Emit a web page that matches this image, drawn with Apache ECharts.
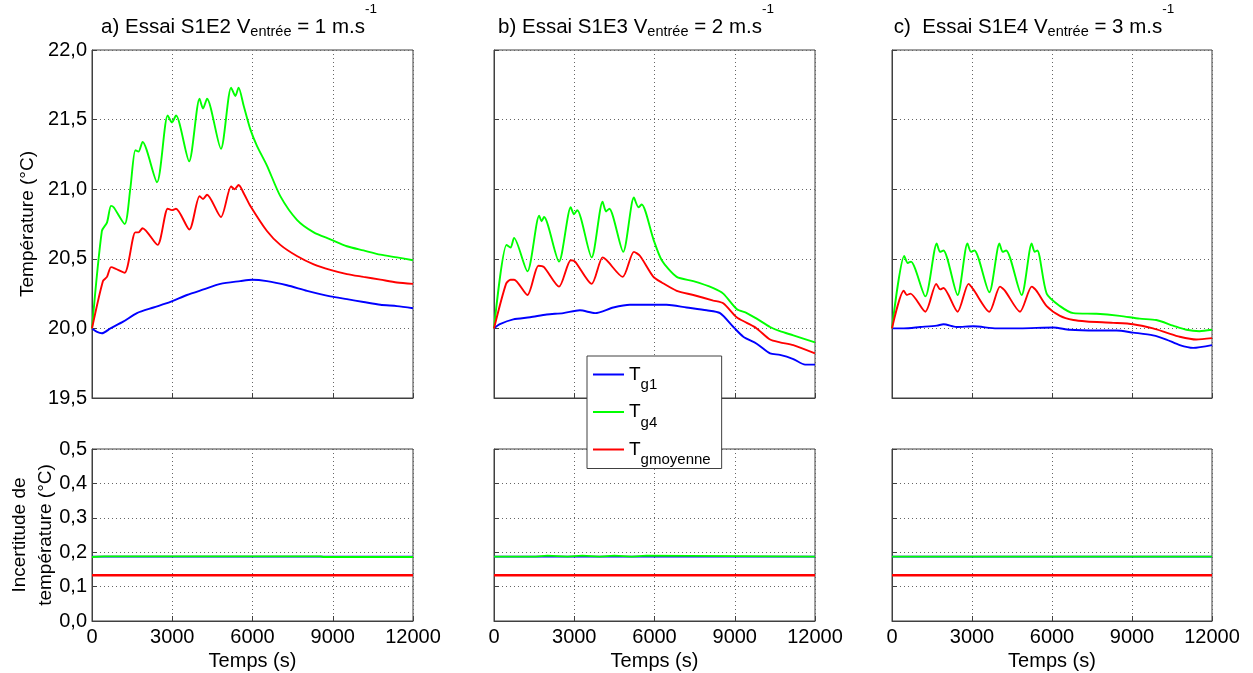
<!DOCTYPE html>
<html><head><meta charset="utf-8">
<script src="https://cdn.jsdelivr.net/npm/echarts@6/dist/echarts.min.js"></script>
<style>html,body{margin:0;padding:0;background:#fff}#c{width:1253px;height:673px}</style>
</head><body><div id="c"></div>
<script>
// ---------- Data ----------
const xTicks = [0, 3000, 6000, 9000, 12000];
const titles = [
  ['a) Essai S1E2 V', 'entrée', ' = 1 m.s', '-1'],
  ['b) Essai S1E3 V', 'entrée', ' = 2 m.s', '-1'],
  ['c)  Essai S1E4 V', 'entrée', ' = 3 m.s', '-1']
];
const seriesNames = ['Tg1', 'Tg4', 'Tgmoyenne'];

// Panel a (S1E2)
const a_g1_t = [0,190,370,690,1180,1680,2300,2930,3550,4170,4800,5540,5980,6540,7290,8040,8910,9530,10150,10780,11400,12000];
const a_g1_v = [20.00,19.975,19.965,20.00,20.05,20.11,20.15,20.19,20.24,20.28,20.32,20.34,20.35,20.34,20.31,20.27,20.23,20.21,20.19,20.17,20.16,20.145];
const a_g4_t = [0,370,560,710,810,1220,1430,1620,1740,1890,2430,2830,2990,3140,3630,4020,4150,4300,4820,5200,5360,5480,5670,5920,6170,6540,7040,7660,8290,8910,9530,10150,10780,11400,12000];
const a_g4_v = [20.00,20.70,20.76,20.88,20.87,20.75,21.00,21.28,21.27,21.34,21.05,21.53,21.48,21.53,21.20,21.65,21.58,21.65,21.29,21.73,21.67,21.73,21.60,21.43,21.31,21.17,20.95,20.78,20.69,20.64,20.59,20.56,20.53,20.51,20.49];
const a_gm_t = [0,410,560,710,870,1220,1620,1740,1890,2450,2830,2990,3140,3640,4020,4150,4300,4820,5200,5330,5480,5700,5920,6540,7040,7660,8290,8910,9530,10150,10780,11400,12000];
const a_gm_v = [20.00,20.34,20.37,20.44,20.43,20.40,20.69,20.69,20.72,20.60,20.86,20.85,20.86,20.71,20.95,20.93,20.96,20.80,21.02,21.00,21.03,20.96,20.88,20.70,20.60,20.52,20.46,20.42,20.39,20.37,20.35,20.33,20.32];

// Panel b (S1E3)
const b_g1_t = [0,220,720,1350,1970,2590,3210,3780,4460,5080,5830,6450,7200,7950,8450,8950,9320,9820,10320,10690,11190,11630,12000];
const b_g1_v = [20.00,20.03,20.065,20.08,20.10,20.11,20.13,20.11,20.15,20.17,20.17,20.17,20.15,20.13,20.11,20.01,19.94,19.89,19.82,19.81,19.78,19.74,19.74];
const b_g4_t = [0,470,620,750,1250,1690,1780,1870,2430,2870,2990,3110,3650,4060,4190,4310,4830,5230,5400,5520,5960,6270,6830,7450,8200,8570,9070,9450,9820,10320,10690,11190,12000];
const b_g4_v = [20.00,20.60,20.58,20.65,20.41,20.81,20.77,20.80,20.48,20.87,20.82,20.85,20.51,20.91,20.84,20.86,20.55,20.94,20.87,20.89,20.64,20.49,20.37,20.34,20.29,20.25,20.14,20.11,20.07,20.01,19.98,19.95,19.90];
const b_gm_t = [0,450,620,750,1250,1660,1870,2430,2870,3030,3650,4060,4210,4810,5230,5460,5960,6270,6830,7450,8200,8570,9070,9450,9820,10320,10690,11190,12000];
const b_gm_v = [20.00,20.32,20.35,20.35,20.24,20.45,20.44,20.30,20.49,20.48,20.32,20.51,20.49,20.37,20.55,20.52,20.37,20.33,20.27,20.24,20.20,20.18,20.08,20.04,20.00,19.92,19.90,19.88,19.82];

// Panel c (S1E4)
const c_g1_t = [0,440,1060,1680,1930,2430,3050,3930,4800,6050,6670,7670,8420,9040,9790,10290,10790,11290,12000];
const c_g1_v = [20.00,20.00,20.01,20.02,20.03,20.01,20.015,20.00,20.00,20.007,19.99,19.985,19.985,19.97,19.95,19.92,19.88,19.86,19.88];
const c_g4_t = [0,460,590,710,1250,1680,1800,1930,2460,2830,2960,3090,3650,4030,4150,4280,4860,5240,5350,5450,5800,6300,6800,7670,8540,9290,9910,10540,11040,11530,12000];
const c_g4_v = [20.00,20.52,20.47,20.48,20.23,20.61,20.55,20.56,20.24,20.61,20.55,20.56,20.26,20.61,20.55,20.56,20.24,20.61,20.55,20.56,20.25,20.16,20.11,20.105,20.09,20.07,20.06,20.02,19.99,19.98,19.99];
const c_gm_t = [0,440,560,690,1250,1660,1810,1930,2460,2870,3050,3650,4050,4240,4800,5240,5420,5800,6300,6800,7300,8290,9040,9790,10290,10790,11410,12000];
const c_gm_v = [20.00,20.27,20.24,20.25,20.12,20.32,20.28,20.29,20.12,20.32,20.28,20.12,20.30,20.27,20.12,20.30,20.27,20.16,20.09,20.06,20.05,20.04,20.03,20.00,19.97,19.94,19.92,19.93];

// Uncertainties (bottom panels)
const a_u_g1_t = [0,12000];                 const a_u_g1_v = [0.187,0.187];
const a_u_g4_t = [0,450,8550,8650,12000];   const a_u_g4_v = [0.186,0.188,0.188,0.186,0.186];
const a_u_gm_t = [0,12000];                 const a_u_gm_v = [0.133,0.133];
const b_u_g1_t = [0,12000];                 const b_u_g1_v = [0.187,0.187];
const b_u_g4_t = [0,1550,1600,2000,2050,2750,2800,3300,3350,3950,4000,4500,4550,5150,5200,5700,5750,12000];
const b_u_g4_v = [0.187,0.187,0.190,0.190,0.187,0.187,0.190,0.190,0.187,0.187,0.190,0.190,0.187,0.187,0.190,0.190,0.187,0.187];
const b_u_gm_t = [0,12000];                 const b_u_gm_v = [0.133,0.133];
const c_u_g1_t = [0,12000];                 const c_u_g1_v = [0.187,0.187];
const c_u_g4_t = [0,12000];                 const c_u_g4_v = [0.187,0.187];
const c_u_gm_t = [0,12000];                 const c_u_gm_v = [0.133,0.133];

// ---------- Chart ----------
const FONT = '"Liberation Sans", Arial, Helvetica, sans-serif';
const COLORS = {Tg1: '#0000ff', Tg4: '#00ff00', Tgmoyenne: '#ff0000'};
const zip = (t, v) => t.map((x, i) => [x, v[i]]);
const comma = v => v.toFixed(1).replace('.', ',');

const topData = [
  [[a_g1_t,a_g1_v],[a_g4_t,a_g4_v],[a_gm_t,a_gm_v]],
  [[b_g1_t,b_g1_v],[b_g4_t,b_g4_v],[b_gm_t,b_gm_v]],
  [[c_g1_t,c_g1_v],[c_g4_t,c_g4_v],[c_gm_t,c_gm_v]]
];
const botData = [
  [[a_u_g1_t,a_u_g1_v],[a_u_g4_t,a_u_g4_v],[a_u_gm_t,a_u_gm_v]],
  [[b_u_g1_t,b_u_g1_v],[b_u_g4_t,b_u_g4_v],[b_u_gm_t,b_u_gm_v]],
  [[c_u_g1_t,c_u_g1_v],[c_u_g4_t,c_u_g4_v],[c_u_gm_t,c_u_gm_v]]
];

const lefts = [92, 494, 892];
const widths = [321, 321, 320];
const grids = [], xAxes = [], yAxes = [], series = [];
const splitStyle = {show: true, lineStyle: {color: '#666', type: [1, 3], width: 1}};
const axisLineStyle = {show: true, lineStyle: {color: '#404040', width: 1}};
const tickStyle = {show: true, inside: true, length: 5, lineStyle: {color: '#404040'}};

for (let row = 0; row < 2; row++) {
  for (let p = 0; p < 3; p++) {
    const gi = row * 3 + p;
    grids.push({
      left: lefts[p], width: widths[p],
      top: row === 0 ? 50 : 449, height: row === 0 ? 348 : 172,
      show: true, borderColor: '#404040', borderWidth: 1
    });
    xAxes.push({
      type: 'value', gridIndex: gi, min: xTicks[0], max: xTicks[xTicks.length - 1], interval: 3000,
      axisLine: axisLineStyle, axisTick: tickStyle, splitLine: splitStyle,
      axisLabel: {show: row === 1, fontSize: 20, color: '#000', fontFamily: FONT, margin: 6,
                  formatter: v => String(v)},
      name: row === 1 ? 'Temps (s)' : '', nameLocation: 'middle', nameGap: 30,
      nameMoveOverlap: false,
      nameTextStyle: {fontSize: 20, color: '#000', fontFamily: FONT}
    });
    const y = row === 0
      ? {min: 19.5, max: 22, interval: 0.5}
      : {min: 0, max: 0.5, interval: 0.1};
    yAxes.push(Object.assign({
      type: 'value', gridIndex: gi,
      axisLine: axisLineStyle, axisTick: tickStyle, splitLine: splitStyle,
      axisLabel: {show: p === 0, fontSize: 20, color: '#000', fontFamily: FONT, margin: 5, formatter: comma},
      name: p === 0 ? (row === 0 ? 'Température (°C)' : 'Incertitude de\ntempérature (°C)') : '',
      nameLocation: 'middle', nameGap: row === 0 ? 51 : 33,
      nameMoveOverlap: false,
      nameTextStyle: {fontSize: 19, color: '#000', fontFamily: FONT, lineHeight: 26}
    }, y));
    const data = row === 0 ? topData[p] : botData[p];
    seriesNames.forEach((nm, k) => {
      series.push({
        type: 'line', name: nm, xAxisIndex: gi, yAxisIndex: gi,
        data: zip(data[k][0], data[k][1]),
        symbol: 'none', showSymbol: false, animation: false,
        smooth: row === 0 ? 0.25 : false,
        lineStyle: {color: COLORS[nm], width: row === 1 && nm === 'Tgmoyenne' ? 2.6 : 1.9},
        itemStyle: {color: COLORS[nm]},
        z: 2 + k
      });
    });
  }
}

const titleCenters = [239, 636, 1034];
const graphics = titles.map((t, i) => ({
  type: 'text', x: titleCenters[i], y: 0, z: 10,
  style: {
    text: '{m|' + t[0] + '}{s|' + t[1] + '}{m|' + t[2] + '}{p|' + t[3] + '}',
    align: 'center', textAlign: 'center', verticalAlign: 'top', textVerticalAlign: 'top',
    fill: '#000',
    rich: {
      m: {fontSize: 20.5, verticalAlign: 'top', padding: [17, 0, 0, 0], fontFamily: FONT, fill: '#000'},
      s: {fontSize: 14.5, verticalAlign: 'top', padding: [24, 0, 0, 0], fontFamily: FONT, fill: '#000'},
      p: {fontSize: 13.5, verticalAlign: 'top', padding: [2, 0, 0, 0], fontFamily: FONT, fill: '#000'}
    }
  }
}));

const chart = echarts.init(document.getElementById('c'), null, {renderer: 'canvas'});
chart.setOption({
  animation: false,
  backgroundColor: '#fff',
  grid: grids, xAxis: xAxes, yAxis: yAxes, series: series,
  graphic: graphics,
  legend: {
    data: seriesNames, orient: 'vertical', left: 587, top: 356,
    icon: 'rect', itemWidth: 31, itemHeight: 2, itemGap: 10,
    padding: [9, 11, 1, 6],
    backgroundColor: '#fff', borderColor: '#404040', borderWidth: 1,
    selectedMode: false, z: 20,
    formatter: n => '{t|T}{s|' + n.slice(1) + '}',
    textStyle: {
      rich: {
        t: {fontSize: 19, lineHeight: 36, fontFamily: FONT, color: '#000'},
        s: {fontSize: 15, lineHeight: 12, verticalAlign: 'bottom', fontFamily: FONT, color: '#000'}
      }
    }
  }
});
</script></body></html>
